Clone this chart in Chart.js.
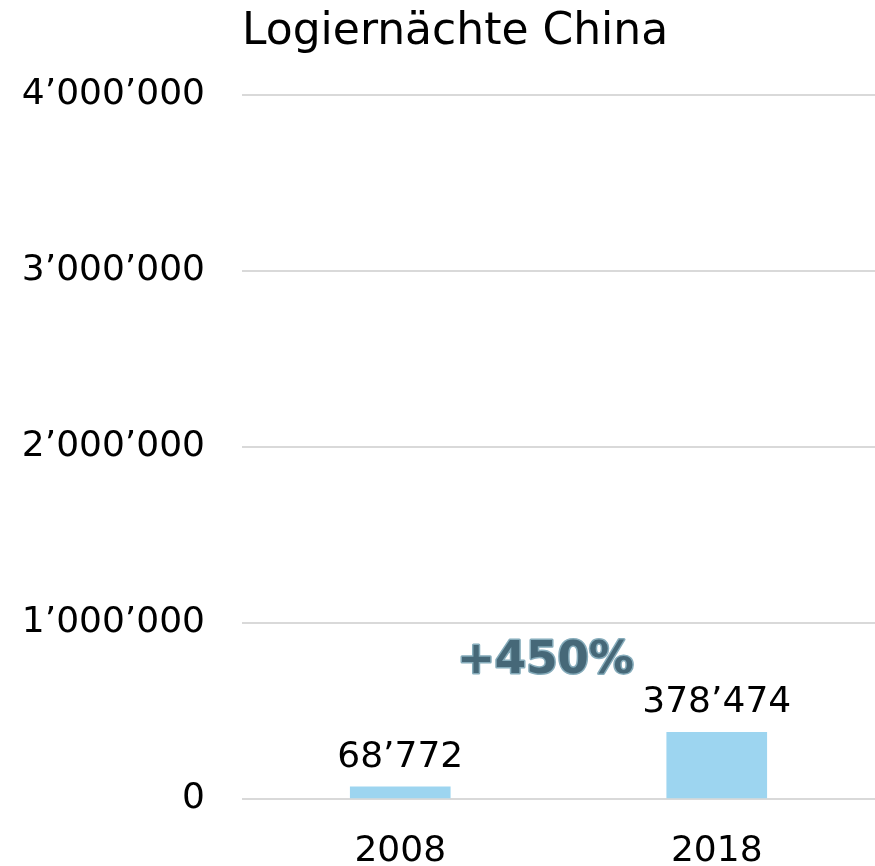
<!DOCTYPE html>
<html>
<head>
<meta charset="utf-8">
<script src="https://cdn.jsdelivr.net/npm/chart.js@4"></script>
<style>
  html, body { margin: 0; padding: 0; background: #fff; }
  #wrap { width: 875px; height: 866px; }
</style>
</head>
<body>
<div id="wrap"><canvas id="chart"></canvas></div>
<script>
const chartTitle = 'Logiernächte China';
const years = ['2008', '2018'];
const nights = [68772, 378474];
const yTicks = [0, 1000000, 2000000, 3000000, 4000000];
const growthLabel = '+450%';
const growthAt = 716000; // value where the growth label sits

// Swiss style thousands: 4'000'000
function swiss(n) {
    return String(Math.round(n)).replace(/\B(?=(\d{3})+(?!\d))/g, '\u2019');
}

const font = 'DejaVu Sans, Verdana, sans-serif';

// Draws title, value labels over bars and the growth label
const extras = {
    id: 'extras',
    afterDatasetsDraw(chart) {
        const ctx = chart.ctx;
        const area = chart.chartArea;
        const x = chart.scales.x;
        const y = chart.scales.y;
        ctx.save();

        ctx.fillStyle = '#000';
        ctx.font = '44px ' + font;
        ctx.textAlign = 'left';
        ctx.textBaseline = 'alphabetic';
        ctx.fillText(chartTitle, area.left, 44);

        ctx.font = '36px ' + font;
        ctx.textAlign = 'center';
        chart.getDatasetMeta(0).data.forEach(function(bar, i) {
            ctx.fillText(swiss(nights[i]), bar.x, bar.y - 20);
        });

        ctx.font = 'bold 45px ' + font;
        const gx = x.getPixelForValue(0.5) - 13;
        const gy = y.getPixelForValue(growthAt);
        ctx.lineJoin = 'round';
        ctx.lineWidth = 3;
        ctx.strokeStyle = '#86acbb';
        ctx.strokeText(growthLabel, gx, gy);
        ctx.fillStyle = '#466878';
        ctx.fillText(growthLabel, gx, gy);
        ctx.restore();
    }
};

new Chart(document.getElementById('chart'), {
    type: 'bar',
    data: {
        labels: years,
        datasets: [{
            data: nights,
            backgroundColor: '#9dd5f0',
            borderWidth: 0,
            barThickness: 100
        }]
    },
    options: {
        responsive: true,
        maintainAspectRatio: false,
        animation: false,
        layout: { padding: { top: 95, right: -6, left: 0, bottom: 0 } },
        plugins: {
            legend: { display: false },
            title: { display: false },
            tooltip: { enabled: false }
        },
        scales: {
            x: {
                grid: { display: false, drawTicks: false },
                border: { display: false },
                ticks: {
                    color: '#000',
                    padding: 31,
                    font: { family: font, size: 36 }
                },
                afterFit: function(scale) { scale.height = 67; }
            },
            y: {
                min: yTicks[0],
                max: yTicks[yTicks.length - 1],
                afterBuildTicks: function(scale) {
                    scale.ticks = yTicks.map(function(v) { return { value: v }; });
                },
                grid: { color: '#d9d9d9', lineWidth: 2, drawTicks: false },
                border: { display: false },
                ticks: {
                    color: '#000',
                    padding: 37,
                    font: { family: font, size: 36 },
                    callback: function(v) { return swiss(v); }
                },
                afterFit: function(scale) { scale.width = 242; }
            }
        }
    },
    plugins: [extras]
});
</script>
</body>
</html>
